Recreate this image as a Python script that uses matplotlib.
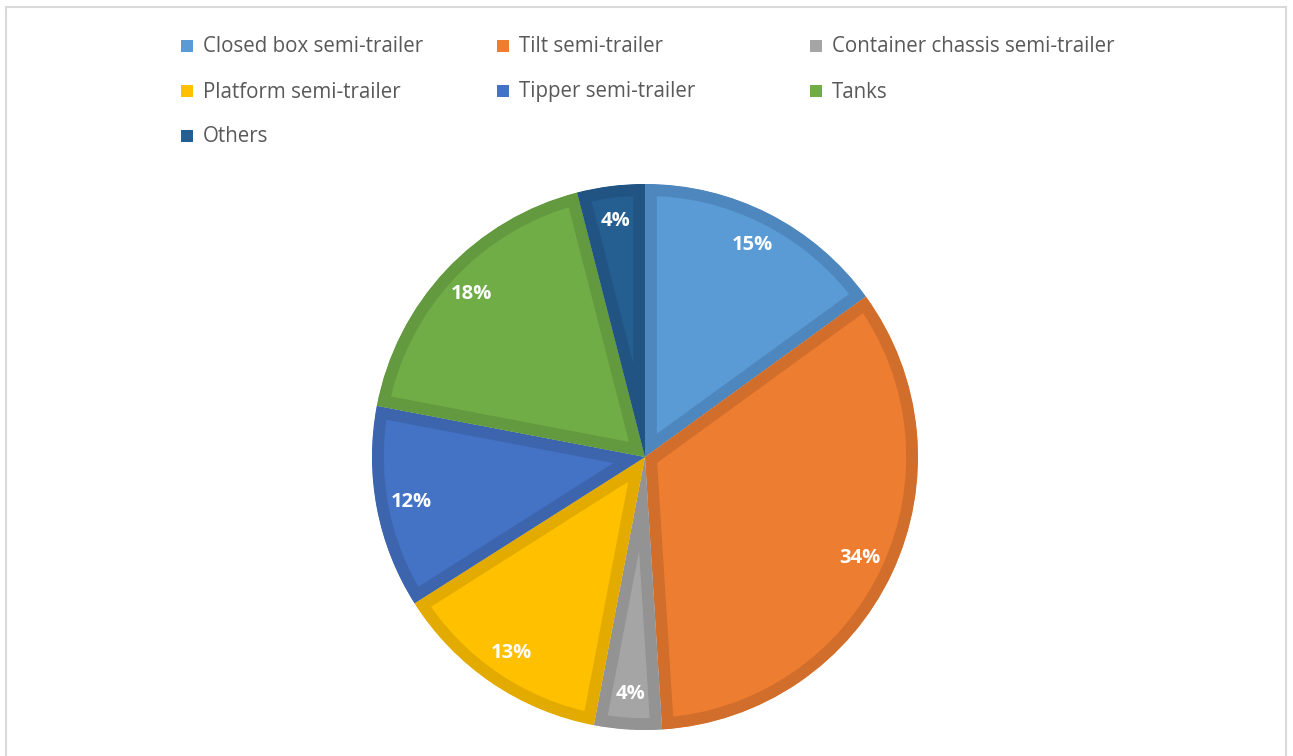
import matplotlib.pyplot as plt
from matplotlib.patches import Rectangle

labels = ["Closed box semi-trailer", "Tilt semi-trailer", "Container chassis semi-trailer",
          "Platform semi-trailer", "Tipper semi-trailer", "Tanks", "Others"]
shares = [15, 34, 4, 13, 12, 18, 4]
fills = ["#5B9BD5", "#ED7D31", "#A5A5A5", "#FFC000", "#4472C4", "#70AD47", "#255E91"]
edges = ["#4E87BE", "#D26E2B", "#939393", "#E3AB00", "#3C65AE", "#63993F", "#215383"]

W, H, DPI = 1293, 756, 100
fig = plt.figure(figsize=(W / DPI, H / DPI), dpi=DPI)
fig.patch.set_facecolor("white")

# outer chart frame (bottom edge runs off the image)
fig.add_artist(Rectangle((5.5 / W, -0.05), (1286 - 5.5) / W, (H - 7.5) / H + 0.05,
                         transform=fig.transFigure, fill=False,
                         edgecolor="#D9D9D9", linewidth=1.5))

cx, cy, r = 645, 457, 273
ax = fig.add_axes([(cx - r) / W, (H - cy - r) / H, 2 * r / W, 2 * r / H])
wedges, texts, autotexts = ax.pie(shares, colors=fills, startangle=90, counterclock=False,
                                  autopct="%d%%", pctdistance=0.87, radius=1,
                                  textprops=dict(color="white", fontsize=14.5, fontweight="bold",
                                                 family="Open Sans"))
ax.set_xlim(-1, 1)
ax.set_ylim(-1, 1)
ax.set_aspect("equal")
ax.axis("off")

# darker inner border like the office chart: wide stroke clipped to the wedge itself
for w, ec in zip(wedges, edges):
    w.set_edgecolor(ec)
    w.set_linewidth(17)
    w.set_clip_on(True)
    w.set_clip_path(w)

# legend, 3 columns
col_x = [181, 497, 810]
row_y = [46, 91, 136]
for i, (lab, c) in enumerate(zip(labels, fills)):
    x = col_x[i % 3]
    y = row_y[i // 3]
    fig.add_artist(Rectangle((x / W, (H - y - 6) / H), 12 / W, 12 / H,
                             transform=fig.transFigure, facecolor=c, edgecolor="none"))
    fig.text((x + 22) / W, (H - y - 1) / H, lab, fontsize=14.8, color="#595959",
             va="center", ha="left", family="Open Sans")

fig.savefig("out.png", dpi=DPI)
